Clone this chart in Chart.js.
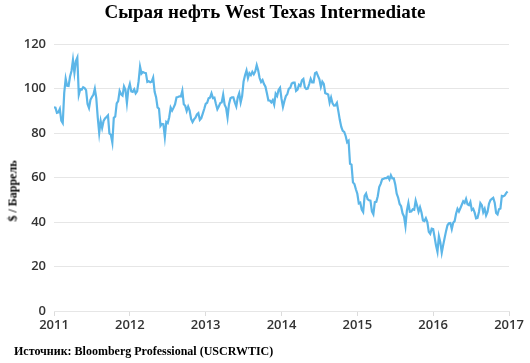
<!DOCTYPE html>
<html>
<head>
<meta charset="utf-8">
<script src="https://cdn.jsdelivr.net/npm/chart.js@4/dist/chart.umd.min.js"></script>
<style>
  html, body { margin: 0; padding: 0; background: #fff; }
  #wrap { position: relative; width: 530px; height: 363px; }
  #title { position: absolute; left: 0; top: 1px; width: 530px; text-align: center;
           font: bold 19px "Liberation Serif", "Times New Roman", serif; color: #000; line-height: 22px; }
  #ylab { position: absolute; left: 13px; top: 191px; transform: translate(-50%, -50%) rotate(-90deg);
          white-space: nowrap; font: bold 12px "Liberation Serif", "Times New Roman", serif; color: #000; }
  #source { position: absolute; left: 14px; top: 343px; white-space: nowrap;
            font: bold 12px "Liberation Serif", "Times New Roman", serif; color: #000; line-height: 16px; }
  canvas { position: absolute; left: 0; top: 0; }
</style>
</head>
<body>
<div id="wrap">
  <canvas id="c" width="530" height="363"></canvas>
  <div id="title">Сырая нефть West Texas Intermediate</div>
  <div id="ylab">$ / Баррель</div>
  <div id="source">Источник: Bloomberg Professional (USCRWTIC)</div>
</div>
<script>
// Weekly WTI price readings ($/barrel), one array per year
const prices2011 = [91.5, 91.4, 89.1, 89.3, 90.8, 85.6, 84.5, 97.9, 104.4, 101.2, 101.1, 105.4, 107.9, 112.8, 107.1, 112.3, 113.9, 97.2, 99.7, 99.5, 100.6, 100.2, 99.3, 93.0, 91.2, 94.9, 96.2, 97.2, 99.9, 95.7, 86.9, 80.0, 85.4, 82.3, 85.4, 86.5, 87.2, 87.9, 79.8, 79.2, 75.7, 86.8, 87.4, 93.3, 94.3, 98.9, 97.4, 96.8, 100.9, 99.4, 93.5, 99.7];
const prices2012 = [102.0, 98.7, 98.5, 99.6, 97.8, 98.7, 103.2, 109.8, 106.7, 107.4, 107.1, 106.9, 103.0, 103.3, 102.8, 103.1, 104.9, 98.5, 96.1, 91.5, 90.9, 83.2, 84.1, 84.0, 78.2, 84.96, 84.45, 87.1, 91.4, 90.1, 91.4, 92.9, 96.0, 96.15, 96.5, 96.4, 99.0, 92.9, 92.2, 89.9, 91.9, 90.1, 86.3, 84.9, 86.1, 86.9, 88.3, 88.9, 85.9, 86.7, 88.7, 90.8];
const prices2013 = [93.1, 93.6, 95.6, 95.9, 97.8, 95.7, 95.9, 93.1, 90.7, 91.95, 93.45, 93.7, 97.2, 92.7, 91.3, 87.0, 92.95, 95.6, 96.0, 96.0, 93.8, 91.97, 96.0, 97.85, 93.7, 96.6, 103.2, 105.95, 108.05, 104.7, 106.9, 106.0, 107.5, 106.4, 107.65, 110.5, 108.2, 104.7, 102.9, 103.8, 102.0, 100.8, 97.85, 94.6, 94.6, 93.8, 94.8, 92.7, 97.65, 96.6, 99.3, 100.3];
const prices2014 = [95.4, 91.7, 94.4, 96.6, 97.5, 99.9, 100.3, 102.2, 102.6, 102.6, 98.9, 99.5, 101.7, 101.1, 103.7, 104.3, 100.6, 99.8, 99.99, 102.0, 104.35, 102.7, 102.7, 106.9, 107.3, 105.7, 104.1, 100.8, 103.1, 102.1, 97.9, 97.65, 97.35, 93.65, 95.96, 93.3, 92.3, 92.4, 93.5, 89.7, 85.8, 82.75, 81.0, 80.5, 78.65, 75.8, 76.5, 66.15, 65.8, 57.8, 57.1, 54.7];
const prices2015 = [52.7, 48.4, 48.7, 45.6, 44.5, 51.7, 52.8, 50.3, 49.8, 49.6, 44.8, 43.5, 48.9, 49.1, 51.6, 55.7, 57.15, 59.15, 59.4, 59.7, 59.7, 60.3, 59.1, 61.0, 59.6, 59.6, 56.9, 52.7, 50.9, 48.1, 47.1, 43.9, 42.5, 38.2, 45.2, 48.5, 44.6, 44.7, 45.7, 45.5, 49.6, 47.3, 44.6, 46.6, 44.3, 40.7, 40.4, 41.7, 39.97, 35.6, 34.7, 37.0];
const prices2016 = [36.8, 33.2, 29.4, 26.6, 33.6, 30.9, 26.2, 29.6, 32.8, 35.9, 38.5, 39.4, 39.5, 36.8, 39.7, 40.4, 43.7, 45.9, 44.7, 46.2, 47.75, 49.3, 48.6, 50.4, 47.98, 47.6, 48.99, 45.4, 45.95, 44.2, 41.6, 41.8, 44.5, 48.5, 47.6, 44.4, 45.9, 43.0, 44.5, 48.2, 49.8, 50.35, 50.85, 48.7, 44.07, 43.4, 45.7, 46.06, 51.7, 51.5, 51.9, 53.0, 53.7];

const years = [2011, 2012, 2013, 2014, 2015, 2016];
const yearlyPrices = [prices2011, prices2012, prices2013, prices2014, prices2015, prices2016];
const xTicks = [2011, 2012, 2013, 2014, 2015, 2016, 2017];
const yTicks = [0, 20, 40, 60, 80, 100, 120];

const points = [];
years.forEach((yr, k) => {
  const arr = yearlyPrices[k];
  arr.forEach((v, i) => points.push({ x: yr + i / arr.length, y: v }));
});

const tickFont = { family: "'Open Sans', sans-serif", size: 13, weight: '600' };

new Chart(document.getElementById('c'), {
  type: 'line',
  data: {
    datasets: [{
      data: points,
      borderColor: '#5cb6e8',
      borderWidth: 2.2,
      pointRadius: 0,
      fill: false,
      tension: 0
    }]
  },
  options: {
    responsive: false,
    animation: false,
    layout: { padding: { top: 44, right: 21, bottom: 0, left: 0 } },
    plugins: { legend: { display: false }, tooltip: { enabled: false }, title: { display: false } },
    scales: {
      x: {
        type: 'linear',
        min: xTicks[0],
        max: xTicks[xTicks.length - 1],
        afterBuildTicks: s => { s.ticks = xTicks.map(v => ({ value: v })); },
        afterFit: s => { s.height = 52; },
        ticks: { color: '#333', font: tickFont, padding: 1, maxRotation: 0, callback: v => String(v) },
        grid: { drawOnChartArea: false, drawTicks: true, tickLength: 5, color: '#dcdcdc' },
        border: { display: true, color: '#e6e6e6' }
      },
      y: {
        min: 0,
        max: 120,
        afterBuildTicks: s => { s.ticks = yTicks.map(v => ({ value: v })); },
        afterFit: s => { s.width = 54; },
        ticks: { color: '#333', font: tickFont, padding: 8 },
        grid: { color: '#e6e6e6', drawTicks: false },
        border: { display: false }
      }
    }
  }
});
</script>
</body>
</html>
